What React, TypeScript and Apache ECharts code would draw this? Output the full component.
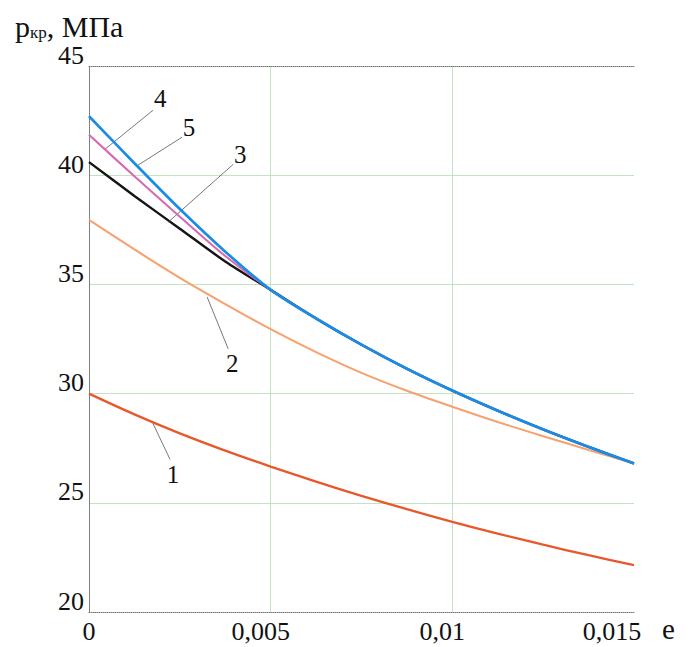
import React, { useEffect, useRef } from "react";
import * as echarts from "echarts";

const eValues = [0, 0.00125, 0.0025, 0.00375, 0.005, 0.00625, 0.0075, 0.00875, 0.01, 0.01125, 0.0125, 0.01375, 0.015];
const curve1 = [30.0, 29.05, 28.18, 27.39, 26.66, 25.97, 25.32, 24.71, 24.13, 23.59, 23.08, 22.6, 22.15];
const curve2 = [37.95, 36.6, 35.3, 34.1, 32.95, 31.9, 30.95, 30.13, 29.4, 28.7, 28.05, 27.42, 26.8];
const curve3 = [40.6, 39.05, 37.55, 36.05, 34.75, 33.44, 32.24, 31.14, 30.14, 29.22, 28.36, 27.56, 26.8];
const curve4 = [41.85, 39.95, 38.1, 36.3, 34.75, 33.44, 32.24, 31.14, 30.14, 29.22, 28.36, 27.56, 26.8];
const curve5 = [42.7, 40.55, 38.45, 36.5, 34.75, 33.44, 32.24, 31.14, 30.14, 29.22, 28.36, 27.56, 26.8];

const curveNames = ["1", "2", "3", "4", "5"];
const curveColors = ["#e8582a", "#f6a26e", "#151515", "#d869b2", "#1a8ce6"];
const curveWidths = [2.3, 2.1, 2.4, 2.1, 2.7];
// label text position and leader line [from, to] in data coordinates
const labelText: number[][] = [[0.00231, 26.3], [0.00394, 31.37], [0.00416, 40.96], [0.00196, 43.52], [0.00275, 42.19]];
const leaderFrom: number[][] = [[0.00223, 26.99], [0.00383, 32.05], [0.00397, 40.5], [0.00176, 42.97], [0.00256, 41.74]];
const leaderTo: number[][] = [[0.00176, 28.63], [0.00325, 34.43], [0.00218, 37.85], [0.00044, 41.19], [0.00135, 40.46]];

const xTicks: Record<string, string> = { "0": "0", "0.005": "0,005", "0.01": "0,01", "0.015": "0,015" };
const serif = "Liberation Serif, DejaVu Serif, serif";

export default function App() {
  const ref = useRef<HTMLDivElement>(null);
  useEffect(() => {
    if (!ref.current) return;
    const chart = echarts.init(ref.current, undefined, { renderer: "svg" });
    const curves = [curve1, curve2, curve3, curve4, curve5];
    const order = [1, 0, 2, 3, 4];
    const series = order.map((i) => ({
      type: "line",
      name: curveNames[i],
      data: eValues.map((e, k) => [e, curves[i][k]]),
      showSymbol: false,
      smooth: 0.3,
      lineStyle: { color: curveColors[i], width: curveWidths[i] },
      itemStyle: { color: curveColors[i] },
      z: 2 + order.indexOf(i),
      markLine: {
        silent: true,
        symbol: ["none", "none"],
        label: { show: false },
        lineStyle: { color: "#555", width: 0.8, type: "solid" },
        data: [[{ coord: leaderFrom[i] }, { coord: leaderTo[i] }]],
      },
      markPoint: {
        silent: true,
        symbol: "circle",
        symbolSize: 1,
        itemStyle: { color: "rgba(0,0,0,0)" },
        label: { show: true, position: "inside", formatter: curveNames[i], color: "#111", fontSize: 25, fontFamily: serif },
        data: [{ coord: labelText[i] }],
      },
    }));
    const fmtX = (v: number) => {
      const key = String(Math.round(v * 1000) / 1000);
      const s = xTicks[key] ?? key;
      if (key === "0") return "{a|" + s + "}";
      if (key === "0.015") return "{c|" + s + "}";
      return "{b|" + s + "}";
    };
    const labelRich = {
      a: { fontSize: 26, fontFamily: serif, color: "#111" },
      b: { fontSize: 26, fontFamily: serif, color: "#111", padding: [0, 20, 0, 0] },
      c: { fontSize: 26, fontFamily: serif, color: "#111", padding: [0, 44, 0, 0] },
    };
    const dotted = { color: "#777", width: 1, type: "dotted" };
    chart.setOption({
      animation: false,
      backgroundColor: "#fff",
      textStyle: { fontFamily: serif },
      title: {
        left: 10,
        top: 6,
        text: "{p|p}{s|кр}{p|, МПа}",
        textStyle: {
          fontWeight: "normal",
          fontFamily: serif,
          rich: {
            p: { fontSize: 30, fontFamily: serif, fontWeight: "normal", color: "#111", verticalAlign: "bottom", lineHeight: 30 },
            s: { fontSize: 17, fontFamily: serif, fontWeight: "normal", color: "#111", verticalAlign: "bottom", lineHeight: 22 },
          },
        },
      },
      grid: { left: 89, top: 66, right: 56, bottom: 35, show: false },
      xAxis: [
        {
          type: "value",
          min: 0,
          max: 0.015,
          interval: 0.005,
          name: "e",
          nameLocation: "end",
          nameGap: 28,
          nameTextStyle: { fontSize: 29, fontFamily: serif, color: "#111", verticalAlign: "top", padding: [2, 0, 0, 0] },
          axisLine: { show: true, lineStyle: dotted },
          axisTick: { show: false },
          axisLabel: { margin: 6, formatter: fmtX, rich: labelRich, fontFamily: serif },
          splitLine: { show: true, showMinLine: false, showMaxLine: false, lineStyle: { color: "#c2e4c2", width: 1 } },
        },
        {
          type: "value",
          position: "top",
          min: 0,
          max: 0.015,
          interval: 0.005,
          axisLine: { show: true, lineStyle: dotted },
          axisTick: { show: false },
          axisLabel: { show: false },
          splitLine: { show: false },
        },
      ],
      yAxis: [
        {
          type: "value",
          min: 20,
          max: 45,
          interval: 5,
          axisLine: { show: true, lineStyle: dotted },
          axisTick: { show: false },
          axisLabel: { margin: 5, fontSize: 26, fontFamily: serif, color: "#111", verticalAlign: "bottom", lineHeight: 22 },
          splitLine: { show: true, showMinLine: false, showMaxLine: false, lineStyle: { color: "#c2e4c2", width: 1 } },
        },
        {
          type: "value",
          position: "right",
          min: 20,
          max: 45,
          interval: 5,
          axisLine: { show: true, lineStyle: dotted },
          axisTick: { show: false },
          axisLabel: { show: false },
          splitLine: { show: false },
        },
      ],
      series,
    });
    return () => chart.dispose();
  }, []);
  return <div ref={ref} style={{ position: "fixed", left: 0, top: 0, width: 690, height: 647 }} />;
}
